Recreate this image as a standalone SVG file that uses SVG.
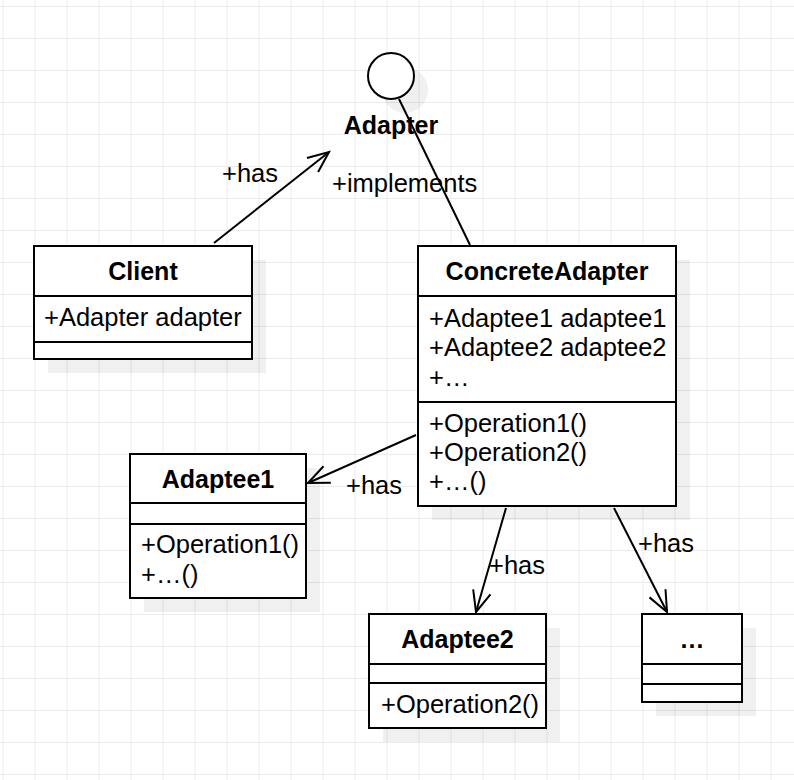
<svg xmlns="http://www.w3.org/2000/svg" width="794" height="780" viewBox="0 0 794 780">
<style>
text{font-family:"Liberation Sans",Arial,Helvetica,sans-serif;fill:#000}
.t{font-size:25.5px}
.b{font-size:25px;font-weight:bold;text-anchor:middle}
.box{fill:#fff;stroke:#000;stroke-width:2}
.div{stroke:#000;stroke-width:2;fill:none}
.sh{fill:#000;fill-opacity:0.06}
.con{stroke:#000;stroke-width:2;fill:none}
</style>
<defs>
<pattern id="grid" patternUnits="userSpaceOnUse" x="2.5" y="6" width="32" height="32">
<path d="M0,0.5 H32 M0.5,0 V32" stroke="#ebebeb" stroke-width="1" fill="none"/>
</pattern>
<marker id="open" markerUnits="userSpaceOnUse" viewBox="-26 -14 30 28" markerWidth="30" markerHeight="28" refX="0" refY="0" orient="auto">
<path d="M-21,-9 L0,0 L-21,9" fill="none" stroke="#000" stroke-width="2"/>
</marker>
</defs>
<rect width="794" height="780" fill="#fff"/>
<rect width="794" height="780" fill="url(#grid)"/>

<g id="connectors">
<line class="con" x1="214" y1="243" x2="329" y2="152" marker-end="url(#open)"/>
<line class="con" x1="399" y1="99" x2="470" y2="245"/>
<line class="con" x1="416" y1="435" x2="308" y2="483" marker-end="url(#open)"/>
<line class="con" x1="506" y1="508" x2="476" y2="612" marker-end="url(#open)"/>
<line class="con" x1="614" y1="508" x2="667" y2="612" marker-end="url(#open)"/>
<text class="t" x="222" y="182">+has</text>
<text class="t" x="332" y="192">+implements</text>
<text class="t" x="346" y="494">+has</text>
<text class="t" x="489" y="574">+has</text>
<text class="t" x="638" y="552">+has</text>
</g>

<g id="adapter">
<circle class="sh" cx="405" cy="90" r="23"/>
<circle class="box" cx="391" cy="76" r="23"/>
<text class="b" x="391" y="134">Adapter</text>
</g>

<g id="client">
<rect class="sh" x="48" y="260" width="218" height="113"/>
<rect class="box" x="34" y="246" width="218" height="113"/>
<path class="div" d="M34,296 H252 M34,342 H252"/>
<text class="b" x="143" y="280">Client</text>
<text class="t" x="44" y="326">+Adapter adapter</text>
</g>

<g id="concreteadapter">
<rect class="sh" x="432" y="260" width="258" height="260"/>
<rect class="box" x="418" y="246" width="258" height="260"/>
<path class="div" d="M418,296 H676 M418,402 H676"/>
<text class="b" x="547" y="280">ConcreteAdapter</text>
<text class="t" x="429" y="327">+Adaptee1 adaptee1</text>
<text class="t" x="429" y="356">+Adaptee2 adaptee2</text>
<text class="t" x="429" y="386">+…</text>
<text class="t" x="429" y="432">+Operation1()</text>
<text class="t" x="429" y="461">+Operation2()</text>
<text class="t" x="429" y="490">+…()</text>
</g>

<g id="adaptee1">
<rect class="sh" x="144" y="468" width="176" height="144"/>
<rect class="box" x="130" y="454" width="176" height="144"/>
<path class="div" d="M130,503 H306 M130,524 H306"/>
<text class="b" x="218" y="488">Adaptee1</text>
<text class="t" x="141" y="553">+Operation1()</text>
<text class="t" x="141" y="583">+…()</text>
</g>

<g id="adaptee2">
<rect class="sh" x="383" y="628" width="177" height="114"/>
<rect class="box" x="369" y="614" width="177" height="114"/>
<path class="div" d="M369,664 H546 M369,683 H546"/>
<text class="b" x="457.5" y="648">Adaptee2</text>
<text class="t" x="381" y="713">+Operation2()</text>
</g>

<g id="more">
<rect class="sh" x="656" y="628" width="100" height="88"/>
<rect class="box" x="642" y="614" width="100" height="88"/>
<path class="div" d="M642,664 H742 M642,684 H742"/>
<text class="b" x="692" y="648">…</text>
</g>
</svg>
